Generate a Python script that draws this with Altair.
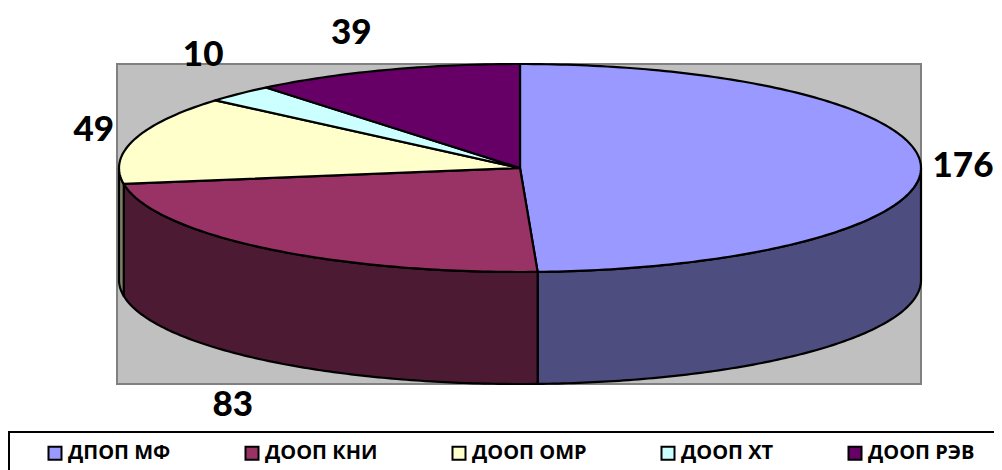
import numpy as np
import pandas as pd
import altair as alt

names = ["ДПОП МФ", "ДООП КНИ", "ДООП ОМР", "ДООП ХТ", "ДООП РЭВ"]
values = [176, 83, 49, 10, 39]
top_colors = ["#9999FF", "#993366", "#FFFFCC", "#CCFFFF", "#660066"]
wall_colors = ["#4D4D80", "#4D1A33", "#808066", "#668080", "#330033"]
label_kx = [1.105, 1.13, 1.105, 1.13, 1.25]
label_ky = [1.0, 1.55, 1.33, 1.52, 1.38]

W, H = 986, 462
CX, CY, RX, RY, DEPTH = 512.0, 160.0, 401.0, 104.0, 112.0  # in plot px


def polar(theta, k_x=1.0, k_y=1.0, drop=0.0):
    return CX + RX * k_x * np.sin(theta), CY - RY * k_y * np.cos(theta) + drop


total = sum(values)
edges = np.cumsum([0] + values) / total * 2 * np.pi
tops, walls, labels = [], [], []
for i, name in enumerate(names):
    a0, a1 = edges[i], edges[i + 1]
    th = np.linspace(a0, a1, max(int((a1 - a0) * 60), 4))
    x, y = polar(th)
    pts = [(CX, CY)] + list(zip(x, y))
    for j, (px, py) in enumerate(pts):
        tops.append({"name": name, "x": px, "y": py, "o": j})
    # visible wall: the part of the rim in the front half
    lo, hi = max(a0, np.pi / 2), min(a1, 3 * np.pi / 2)
    if hi > lo:
        tw = np.linspace(lo, hi, 120)
        wx, wy = polar(tw)
        wpts = list(zip(wx, wy)) + list(zip(wx[::-1], wy[::-1] + DEPTH))
        for j, (px, py) in enumerate(wpts):
            walls.append({"name": name, "wall": wall_colors[i], "x": px, "y": py, "o": j})
    mid = (a0 + a1) / 2
    lx, ly = polar(mid, label_kx[i], label_ky[i], DEPTH if np.cos(mid) < -0.5 else 0)
    labels.append({"x": lx, "y": ly, "value": values[i]})

xs = alt.Scale(domain=[0, W], range=[0, W], nice=False, zero=False)
ys = alt.Scale(domain=[0, H], range=[0, H], nice=False, zero=False)
X = alt.X("x:Q", scale=xs, axis=None)
Y = alt.Y("y:Q", scale=ys, axis=None)

panel = pd.DataFrame([{"x": CX - RX - 2, "x2": CX + RX, "y": CY - RY, "y2": CY - RY + 320}])
back = alt.Chart(panel).mark_rect(fill="#C0C0C0", stroke="#808080", strokeWidth=2).encode(
    x=X, x2="x2:Q", y=Y, y2="y2:Q")

box = pd.DataFrame([{"x": 1, "x2": 1040, "y": 424, "y2": 500}])
legend_box = alt.Chart(box).mark_rect(fill="white", stroke="black", strokeWidth=2).encode(
    x=X, x2="x2:Q", y=Y, y2="y2:Q")

wall_layer = alt.Chart(pd.DataFrame(walls)).mark_line(
    stroke="black", strokeWidth=2.2, interpolate="linear-closed", strokeJoin="round"
).encode(x=X, y=Y, order="o:Q", detail="name:N", fill=alt.Fill("wall:N", scale=None))

top_scale = alt.Scale(domain=names, range=top_colors)
top_layer = alt.Chart(pd.DataFrame(tops)).mark_line(
    stroke="black", strokeWidth=2.2, interpolate="linear-closed", strokeJoin="round"
).encode(x=X, y=Y, order="o:Q", detail="name:N",
         fill=alt.Fill("name:N", scale=top_scale, legend=None))

legend_layer = alt.Chart(pd.DataFrame({"name": names, "x": [CX] * 5, "y": [CY] * 5})).mark_square(
    size=0, filled=True
).encode(
    x=X, y=Y,
    fill=alt.Fill("name:N", scale=top_scale, legend=alt.Legend(
        orient="none", legendX=37, legendY=435, direction="horizontal", columns=5,
        title=None, symbolType="square", symbolSize=169, symbolStrokeColor="black",
        symbolStrokeWidth=2, symbolOpacity=1, columnPadding=70, labelOffset=3,
        labelFont="Open Sans", labelFontWeight="bold", labelFontSize=20, labelColor="black",
        labelLimit=300, padding=0)),
)

text_layer = alt.Chart(pd.DataFrame(labels)).mark_text(
    font="Lato", fontWeight=900, fontSize=35, color="black"
).encode(x=X, y=Y, text="value:Q")

chart = alt.layer(back, legend_box, wall_layer, top_layer, legend_layer, text_layer).resolve_scale(
    fill="independent"
).properties(
    width=W, height=H, padding=0, autosize=alt.AutoSizeParams(type="none"), background="white",
).configure_view(stroke=None, clip=False)

chart.save("out.html", embed_options={"renderer": "svg", "actions": False})
